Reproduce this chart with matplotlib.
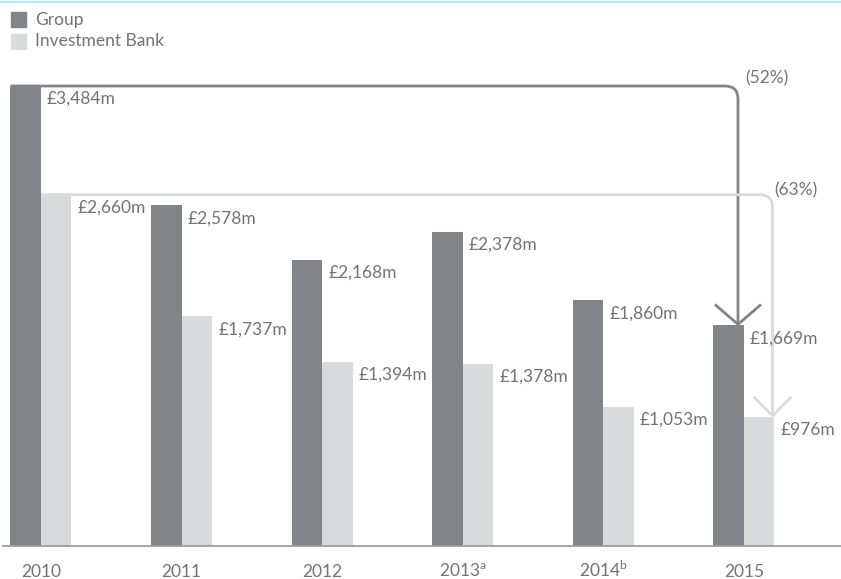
import matplotlib
matplotlib.use("Agg")
import matplotlib.pyplot as plt
from matplotlib.path import Path
from matplotlib.patches import PathPatch, Rectangle
from matplotlib.lines import Line2D

plt.rcParams["mathtext.fontset"] = "custom"
plt.rcParams["mathtext.rm"] = "Lato"

years = ["2010", "2011", "2012", "2013$^{\\mathregular{a}}$", "2014$^{\\mathregular{b}}$", "2015"]
group = [3484, 2578, 2168, 2378, 1860, 1669]
ib = [2660, 1737, 1394, 1378, 1053, 976]
change_group = "(52%)"
change_ib = "(63%)"
series_names = ["Group", "Investment Bank"]

C_GROUP = "#838488"
C_IB = "#d9dadc"
C_TEXT = "#737376"
C_AXIS = "#9d9d9f"
FONT = "Lato"
FW = "normal"

W, H = 841, 579
fig = plt.figure(figsize=(W / 100, H / 100), dpi=100)

base_px = 545.5
px_per_unit = 459.5 / 3484
x0_px, dx_px = 41.0, 140.6
ax = fig.add_axes([0, (H - base_px) / H, 1, base_px / H])
ax.set_xlim(-x0_px / dx_px, (W - x0_px) / dx_px)
ax.set_ylim(0, base_px / px_per_unit)
for s in ax.spines.values():
    s.set_visible(False)
ax.set_xticks([])
ax.set_yticks([])

bw = 30.5 / dx_px
xs = list(range(len(years)))
ax.bar([x - bw for x in xs], group, width=bw, align="edge", color=C_GROUP, zorder=2)
ax.bar(xs, ib, width=bw, align="edge", color=C_IB, zorder=2)

ux = 1 / dx_px   # data per pixel in x
uy = 1 / px_per_unit  # data per pixel in y

fs = 12.5
for x, g, b in zip(xs, group, ib):
    ax.text(x + 6 * ux, g - 5 * uy, f"£{g:,}m", ha="left", va="top", fontsize=fs,
            color=C_TEXT, family=FONT, fontweight=FW, zorder=5)
    ax.text(x + bw + 6 * ux, b - 5 * uy, f"£{b:,}m", ha="left", va="top", fontsize=fs,
            color=C_TEXT, family=FONT, fontweight=FW, zorder=5)

# year labels
for x, y in zip(xs, years):
    fig.text((x0_px + x * dx_px) / W, 1 - 577 / H, y, ha="center", va="baseline",
             fontsize=fs, color=C_TEXT, family=FONT, fontweight=FW)

# axis line
fig.add_artist(Line2D([3 / W, 1], [1 - base_px / H] * 2, color=C_AXIS, lw=1.3))

# arrows
def elbow(x_start, y_top, x_corner, y_end, color, lw, r_px, head_w, head_h):
    rx, ry = r_px * ux, r_px * uy
    verts = [(x_start, y_top), (x_corner - rx, y_top), (x_corner, y_top),
             (x_corner, y_top - ry), (x_corner, y_end)]
    codes = [Path.MOVETO, Path.LINETO, Path.CURVE3, Path.CURVE3, Path.LINETO]
    ax.add_patch(PathPatch(Path(verts, codes), fill=False, edgecolor=color, lw=lw,
                           capstyle="butt", zorder=3))
    ax.plot([x_corner - head_w * ux, x_corner, x_corner + head_w * ux],
            [y_end + head_h * uy, y_end, y_end + head_h * uy], color=color, lw=lw,
            solid_joinstyle="miter", zorder=3)

elbow(-bw, group[0], xs[-1] - 6 * ux, group[-1] + 1 * uy, C_GROUP, 2.0, 13, 22, 19)
elbow(0, ib[0], xs[-1] + bw - 2 * ux, ib[-1] + 1 * uy, C_IB, 2.0, 13, 18, 18)

ax.text(xs[-1] + 1 * ux, group[0] + 8 * uy, change_group, ha="left", va="center",
        fontsize=fs, color=C_TEXT, family=FONT, fontweight=FW)
ax.text(xs[-1] + bw + 0 * ux, ib[0] + 4 * uy, change_ib, ha="left", va="center",
        fontsize=fs, color=C_TEXT, family=FONT, fontweight=FW)

# legend
for i, (name, c) in enumerate(zip(series_names, [C_GROUP, C_IB])):
    ytop = 12 + i * 21.5
    fig.add_artist(Rectangle((11 / W, 1 - (ytop + 15) / H), 15 / W, 15 / H,
                             color=c, transform=fig.transFigure))
    fig.text(35 / W, 1 - (ytop + 8) / H, name, ha="left", va="center", fontsize=fs,
             color=C_TEXT, family=FONT, fontweight=FW)

# top rule
fig.add_artist(Line2D([0, 1], [1 - 1.5 / H] * 2, color="#b4e6f6", lw=1.5))

fig.savefig("out.png", dpi=100)
